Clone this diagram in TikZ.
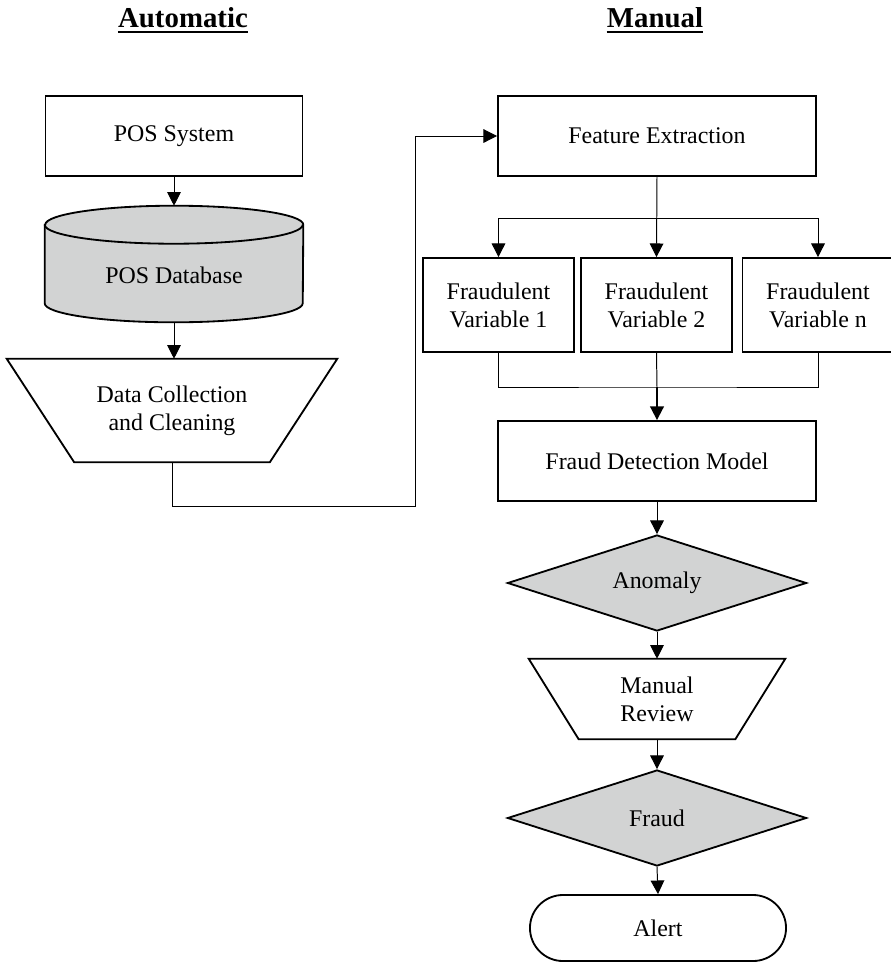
\documentclass[tikz,border=0pt]{standalone}
\usepackage{fontspec}
\setmainfont{Liberation Serif}
\usetikzlibrary{backgrounds}
\usetikzlibrary{shapes.geometric,arrows.meta}
\tikzset{>={Triangle[length=3.4mm,width=3.4mm]}}
\definecolor{dbgray}{RGB}{210,211,211}
\tikzset{
  shapeline/.style = {line width=1.3pt},
  conn/.style = {line width=0.7pt,->},
  title/.style = {inner sep=0pt, anchor=base, font=\bfseries\fontsize{20.5pt}{24pt}\selectfont},
  uline/.style = {line width=1.4pt},
  block/.style = {draw, shapeline, inner sep=0pt, align=center, minimum height=20mm},
  varbox/.style = {block, minimum width=37.75mm, minimum height=23.5mm},
  dbbody/.style = {inner sep=0pt, minimum width=64.5mm, minimum height=29mm},
  trap/.style = {inner sep=0pt, align=center},
  decision/.style = {diamond, draw, shapeline, fill=dbgray, inner sep=0pt, aspect=3,
                     minimum width=74.75mm, minimum height=24mm},
  terminal/.style = {block, rounded corners=8.25mm, minimum width=64mm, minimum height=16.5mm}
}

\begin{document}
\begin{tikzpicture}[x=0.025cm, y=-0.025cm, font=\fontsize{17pt}{20pt}\selectfont]
  \useasboundingbox (0,0) rectangle (891,963);
  % column titles
  \node[title] (auto) at (183,27) {Automatic};
  \node[title] (man) at (655,27) {Manual};
  \draw[uline] ([yshift=-1.25mm]auto.base west) -- ([yshift=-1.25mm]auto.base east);
  \draw[uline] ([yshift=-1.25mm]man.base west) -- ([yshift=-1.25mm]man.base east);

  % automatic side
  \node[block, minimum width=64.25mm] (pos) at (174,136) {POS System};
  \node[dbbody] (db) at (174,264) {\raisebox{-2.75mm}[\height][\depth]{POS Database}};
  \begin{scope}[on background layer]
    \draw[shapeline, fill=dbgray] ([yshift=-4.75mm]db.north west) -- ([yshift=4.75mm]db.south west)
      arc[start angle=180, end angle=360, x radius=32.25mm, y radius=4.75mm]
      -- ([yshift=-4.75mm]db.north east)
      arc[start angle=0, end angle=180, x radius=32.25mm, y radius=4.75mm] -- cycle;
    \draw[shapeline] ([yshift=-4.75mm]db.north west)
      arc[start angle=180, end angle=360, x radius=32.25mm, y radius=4.75mm];
  \end{scope}
  \node[trap, minimum width=82.5mm, minimum height=25.75mm] (clean) at (172,410.5) {Data Collection\\and Cleaning};
  \draw[shapeline] (clean.north west) -- (clean.north east)
    -- ([xshift=-16.875mm]clean.south east) -- ([xshift=16.875mm]clean.south west) -- cycle;

  % manual side
  \node[block, minimum width=79.5mm] (feat) at (657,136) {Feature Extraction};
  \node[varbox] (var1) at (498.5,305) {Fraudulent\\Variable 1};
  \node[varbox] (var2) at (656.5,305) {Fraudulent\\Variable 2};
  \node[varbox] (var3) at (818,305) {Fraudulent\\Variable n};
  \node[block, minimum width=79.5mm] (fdm) at (657,461) {Fraud Detection Model};
  \node[decision] (anom) at (657,583) {Anomaly};
  \node[trap, minimum width=64mm, minimum height=20mm] (review) at (657,699) {Manual\\Review};
  \draw[shapeline] (review.north west) -- (review.north east)
    -- ([xshift=-12.5mm]review.south east) -- ([xshift=12.5mm]review.south west) -- cycle;
  \node[decision] (fraud) at (657,818) {Fraud};
  \node[terminal] (alert) at (658,928) {Alert};

  % connectors
  \coordinate (bend) at (415,506);
  \coordinate (split) at (657,218);
  \coordinate (join) at (657,387);
  \draw[conn] (pos.south) -- (db.north);
  \draw[conn] (db.south) -- (db.south |- clean.north);
  \draw[conn] (clean.south) |- (bend) |- (feat.west);
  \draw[conn] (feat.south) -- (var2.north);
  \draw[conn] (split) -| (var1.north);
  \draw[conn] (split) -| (var3.north);
  \draw[line width=0.7pt] (var1.south) |- (join) -| (var3.south);
  \draw[line width=0.7pt] (var2.south) -- (join);
  \draw[shapeline,->] (join) -- (fdm.north);
  \draw[conn] (fdm.south) -- (anom.north);
  \draw[conn] (anom.south) -- (review.north);
  \draw[conn] (review.south) -- (fraud.north);
  \draw[conn] (fraud.south) -- (alert.north);
\end{tikzpicture}
\end{document}
